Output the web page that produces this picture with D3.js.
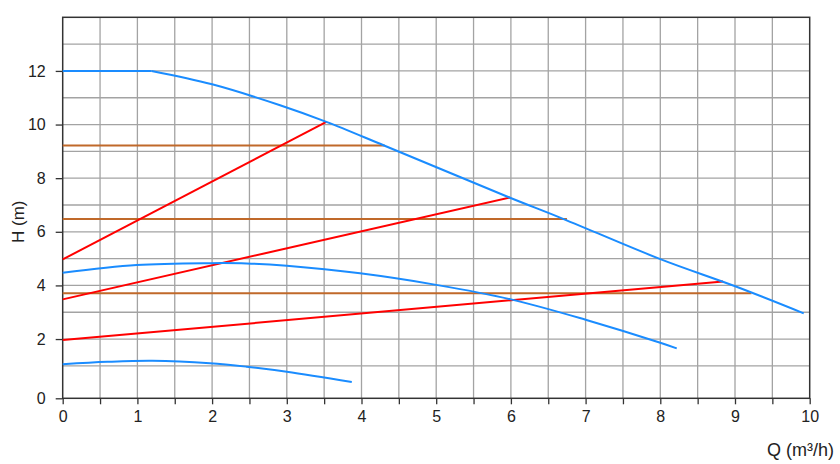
<!DOCTYPE html>
<html>
<head>
<meta charset="utf-8">
<script src="https://cdn.jsdelivr.net/npm/d3@7"></script>
<style>
  body { margin: 0; background: #fff; }
  svg { display: block; font-family: "Liberation Sans", Arial, sans-serif; }
</style>
</head>
<body>
<div id="root"></div>
<script>
// pump curves (Q in m3/h, H in m)
const maxFlat = [[0, 12], [1.19, 12]];
const maxCurve = [[1.19, 12], [2, 11.5], [2.91, 10.72], [3.53, 10.1], [4.31, 9.21],
                  [5.98, 7.28], [6.65, 6.54], [8.0, 4.98], [9.02, 3.95], [9.92, 2.96]];
const midCurve = [[0, 4.47], [0.99, 4.76], [1.97, 4.83], [2.46, 4.82], [3.0, 4.73], [3.98, 4.45],
                  [5, 4.02], [6, 3.48], [7, 2.72], [8, 1.86], [8.22, 1.65]];
const minCurve = [[0, 1.06], [0.6, 1.15], [1.2, 1.19], [1.97, 1.1], [2.46, 0.97], [3.0, 0.78], [3.87, 0.4]];

// proportional pressure lines (red)
const propLines = [
    [[0, 4.97], [3.53, 10.1]],
    [[0, 3.48], [5.99, 7.28]],
    [[0, 1.96], [8.84, 4.15]]
];
// constant pressure lines (orange): H level and Q end
const constLevels = [9.22, 6.48, 3.71];
const constEnds = [4.31, 6.75, 9.22];

const xTicks = [0, 1, 2, 3, 4, 5, 6, 7, 8, 9, 10];
const yTicks = [2, 4, 6, 8, 10, 12];

const W = 840, H = 464;
const margin = { left: 62.7, right: 30.3, top: 17.3, bottom: 65.7 };
const yBottom = -0.21; // the axis sits a little below H = 0

const svg = d3.select('#root').append('svg')
    .attr('width', W)
    .attr('height', H);

const x = d3.scaleLinear().domain([0, 10]).range([margin.left, W - margin.right]);
const y = d3.scaleLinear().domain([yBottom, 14]).range([H - margin.bottom, margin.top]);

// grid
const grid = svg.append('g').attr('stroke', '#a3a3a3').attr('stroke-width', 1.3);
d3.range(1, 20).map(i => i * 0.5).forEach(v => {
    grid.append('line')
        .attr('x1', x(v)).attr('x2', x(v))
        .attr('y1', y(yBottom)).attr('y2', y(14));
});
d3.range(1, 14).forEach(v => {
    grid.append('line')
        .attr('x1', x(0)).attr('x2', x(10))
        .attr('y1', y(v)).attr('y2', y(v));
});

// frame
svg.append('rect')
    .attr('x', x(0)).attr('y', y(14))
    .attr('width', x(10) - x(0)).attr('height', y(yBottom) - y(14))
    .attr('fill', 'none').attr('stroke', '#333').attr('stroke-width', 1.5);

// axes
const xAxis = d3.axisBottom(x)
    .tickValues(d3.range(0, 21).map(i => i * 0.5))
    .tickSize(6)
    .tickFormat(d => xTicks.includes(d) ? d : '');
svg.append('g')
    .attr('transform', `translate(0,${y(yBottom)})`)
    .call(xAxis)
    .call(g => g.select('.domain').remove())
    .call(g => g.selectAll('line').attr('stroke', '#333').attr('stroke-width', 1.3))
    .call(g => g.selectAll('text').attr('font-size', 16).attr('fill', '#222').attr('dy', '0.95em'));

const yAxis = d3.axisLeft(y)
    .tickValues([yBottom].concat(yTicks))
    .tickSize(7)
    .tickPadding(10)
    .tickFormat(d => d === yBottom ? '0' : d);
svg.append('g')
    .attr('transform', `translate(${x(0)},0)`)
    .call(yAxis)
    .call(g => g.select('.domain').remove())
    .call(g => g.selectAll('line').attr('stroke', '#333').attr('stroke-width', 1.3))
    .call(g => g.selectAll('text').attr('font-size', 16).attr('fill', '#222'));

// axis titles
svg.append('text')
    .attr('transform', `translate(24,${(y(14) + y(yBottom)) / 2 + 14}) rotate(-90)`)
    .attr('text-anchor', 'middle')
    .attr('font-size', 17)
    .attr('fill', '#222')
    .text('H (m)');
svg.append('text')
    .attr('x', 834).attr('y', 456)
    .attr('text-anchor', 'end')
    .attr('font-size', 18)
    .attr('fill', '#222')
    .text('Q (m³/h)');

const smooth = d3.line().x(d => x(d[0])).y(d => y(d[1])).curve(d3.curveCatmullRom.alpha(0.5));
const straight = d3.line().x(d => x(d[0])).y(d => y(d[1]));

// orange constant-pressure lines
constLevels.forEach((h, i) => {
    svg.append('path')
        .attr('d', straight([[0, h], [constEnds[i], h]]))
        .attr('fill', 'none')
        .attr('stroke', '#c0692a')
        .attr('stroke-width', 2);
});

// red proportional lines
propLines.forEach(pts => {
    svg.append('path')
        .attr('d', straight(pts))
        .attr('fill', 'none')
        .attr('stroke', '#ff0000')
        .attr('stroke-width', 2);
});

// blue pump curves
svg.append('path')
    .attr('d', straight(maxFlat))
    .attr('fill', 'none')
    .attr('stroke', '#1a8cff')
    .attr('stroke-width', 2);
[maxCurve, midCurve, minCurve].forEach(pts => {
    svg.append('path')
        .attr('d', smooth(pts))
        .attr('fill', 'none')
        .attr('stroke', '#1a8cff')
        .attr('stroke-width', 2);
});
</script>
</body>
</html>
